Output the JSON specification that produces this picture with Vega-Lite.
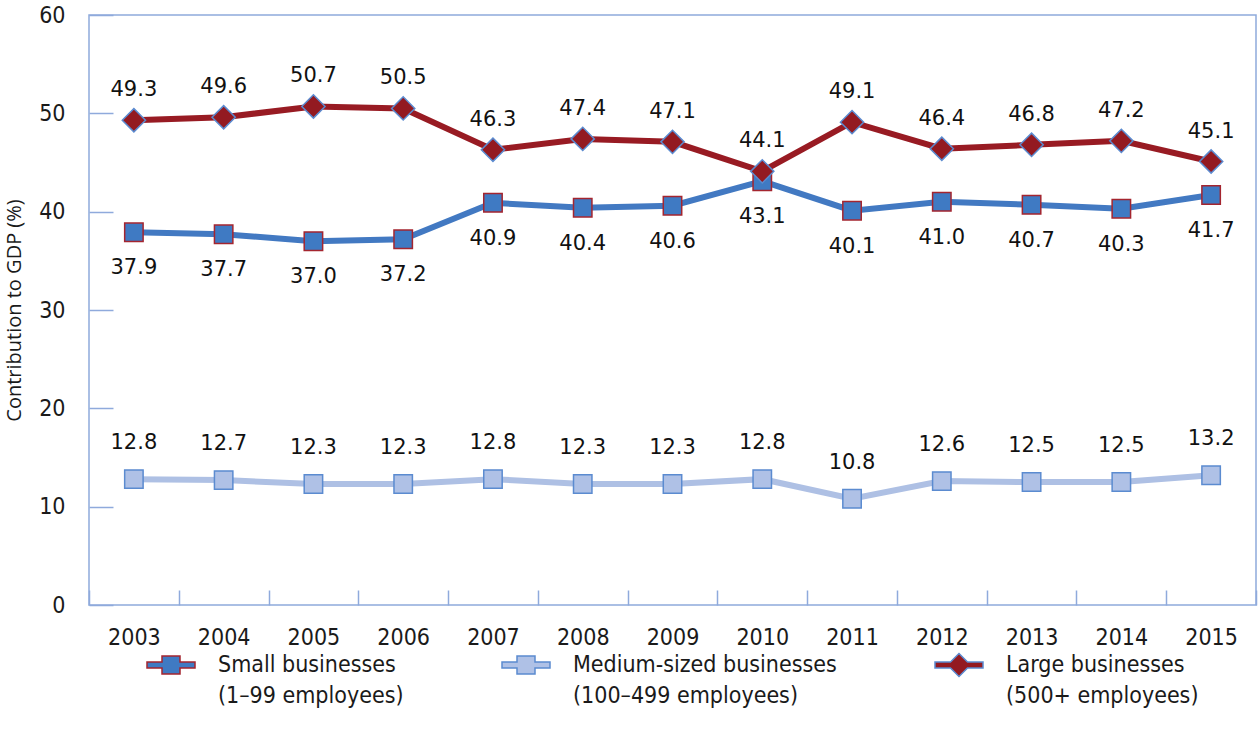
{
  "$schema": "https://vega.github.io/schema/vega-lite/v6.json",
  "width": 1260,
  "height": 732,
  "autosize": {"type": "fit", "contains": "padding"},
  "padding": {"left": 4, "top": 4, "right": 3, "bottom": 24},
  "background": "white",
  "config": {
    "view": {"stroke": "#8FAADC", "strokeWidth": 1.5},
    "font": "DejaVu Sans Condensed",
    "legend": {"layout": {"bottom": {"anchor": "middle"}}},
    "style": {"guide-label": {"lineHeight": 31}}
  },
  "data": {
    "values": [
      {"year": "2003", "series": "Small businesses|(1–99 employees)", "value": 37.9},
      {"year": "2004", "series": "Small businesses|(1–99 employees)", "value": 37.7},
      {"year": "2005", "series": "Small businesses|(1–99 employees)", "value": 37.0},
      {"year": "2006", "series": "Small businesses|(1–99 employees)", "value": 37.2},
      {"year": "2007", "series": "Small businesses|(1–99 employees)", "value": 40.9},
      {"year": "2008", "series": "Small businesses|(1–99 employees)", "value": 40.4},
      {"year": "2009", "series": "Small businesses|(1–99 employees)", "value": 40.6},
      {"year": "2010", "series": "Small businesses|(1–99 employees)", "value": 43.1},
      {"year": "2011", "series": "Small businesses|(1–99 employees)", "value": 40.1},
      {"year": "2012", "series": "Small businesses|(1–99 employees)", "value": 41.0},
      {"year": "2013", "series": "Small businesses|(1–99 employees)", "value": 40.7},
      {"year": "2014", "series": "Small businesses|(1–99 employees)", "value": 40.3},
      {"year": "2015", "series": "Small businesses|(1–99 employees)", "value": 41.7},
      {"year": "2003", "series": "Medium-sized businesses|(100–499 employees)", "value": 12.8},
      {"year": "2004", "series": "Medium-sized businesses|(100–499 employees)", "value": 12.7},
      {"year": "2005", "series": "Medium-sized businesses|(100–499 employees)", "value": 12.3},
      {"year": "2006", "series": "Medium-sized businesses|(100–499 employees)", "value": 12.3},
      {"year": "2007", "series": "Medium-sized businesses|(100–499 employees)", "value": 12.8},
      {"year": "2008", "series": "Medium-sized businesses|(100–499 employees)", "value": 12.3},
      {"year": "2009", "series": "Medium-sized businesses|(100–499 employees)", "value": 12.3},
      {"year": "2010", "series": "Medium-sized businesses|(100–499 employees)", "value": 12.8},
      {"year": "2011", "series": "Medium-sized businesses|(100–499 employees)", "value": 10.8},
      {"year": "2012", "series": "Medium-sized businesses|(100–499 employees)", "value": 12.6},
      {"year": "2013", "series": "Medium-sized businesses|(100–499 employees)", "value": 12.5},
      {"year": "2014", "series": "Medium-sized businesses|(100–499 employees)", "value": 12.5},
      {"year": "2015", "series": "Medium-sized businesses|(100–499 employees)", "value": 13.2},
      {"year": "2003", "series": "Large businesses|(500+ employees)", "value": 49.3},
      {"year": "2004", "series": "Large businesses|(500+ employees)", "value": 49.6},
      {"year": "2005", "series": "Large businesses|(500+ employees)", "value": 50.7},
      {"year": "2006", "series": "Large businesses|(500+ employees)", "value": 50.5},
      {"year": "2007", "series": "Large businesses|(500+ employees)", "value": 46.3},
      {"year": "2008", "series": "Large businesses|(500+ employees)", "value": 47.4},
      {"year": "2009", "series": "Large businesses|(500+ employees)", "value": 47.1},
      {"year": "2010", "series": "Large businesses|(500+ employees)", "value": 44.1},
      {"year": "2011", "series": "Large businesses|(500+ employees)", "value": 49.1},
      {"year": "2012", "series": "Large businesses|(500+ employees)", "value": 46.4},
      {"year": "2013", "series": "Large businesses|(500+ employees)", "value": 46.8},
      {"year": "2014", "series": "Large businesses|(500+ employees)", "value": 47.2},
      {"year": "2015", "series": "Large businesses|(500+ employees)", "value": 45.1}
    ]
  },
  "encoding": {
    "x": {
      "field": "year",
      "type": "ordinal",
      "scale": {"type": "band", "paddingInner": 0, "paddingOuter": 0},
      "axis": {
        "title": null,
        "labelAngle": 0,
        "domain": false,
        "tickBand": "extent",
        "tickSize": -15,
        "tickColor": "#8FAADC",
        "tickWidth": 1.5,
        "labelFont": "DejaVu Sans Condensed",
        "labelFontSize": 23,
        "labelColor": "#1a1a1a",
        "labelPadding": 36
      }
    },
    "y": {
      "field": "value",
      "type": "quantitative",
      "scale": {"domain": [0, 60], "nice": false, "zero": true},
      "axis": {
        "title": "Contribution to GDP (%)",
        "titleFont": "Open Sans",
        "titleFontSize": 20,
        "titleFontWeight": "normal",
        "titleColor": "#1a1a1a",
        "titlePadding": 14,
        "values": [0, 10, 20, 30, 40, 50, 60],
        "grid": false,
        "domain": false,
        "tickSize": -24,
        "tickColor": "#8FAADC",
        "tickWidth": 1.5,
        "labelFont": "DejaVu Sans Condensed",
        "labelFontSize": 23,
        "labelColor": "#1a1a1a",
        "labelPadding": 48
      }
    }
  },
  "layer": [
    {
      "transform": [{"filter": "indexof(datum.series, 'Medium') >= 0"}],
      "mark": {"type": "line", "strokeWidth": 6, "color": "#AEC0E4"}
    },
    {
      "transform": [{"filter": "indexof(datum.series, 'Small') >= 0"}],
      "mark": {"type": "line", "strokeWidth": 6, "color": "#4279C2"}
    },
    {
      "transform": [{"filter": "indexof(datum.series, 'Large') >= 0"}],
      "mark": {"type": "line", "strokeWidth": 6, "color": "#981B23"}
    },
    {
      "transform": [{"filter": "indexof(datum.series, 'Medium') >= 0"}],
      "mark": {"type": "point", "shape": "square", "filled": true, "size": 340, "strokeWidth": 1.5, "opacity": 1, "fill": "#AFC1E6", "stroke": "#5B8BD0"}
    },
    {
      "transform": [{"filter": "indexof(datum.series, 'Small') >= 0"}],
      "mark": {"type": "point", "shape": "square", "filled": true, "size": 340, "strokeWidth": 1.5, "opacity": 1, "fill": "#3F7AC3", "stroke": "#A4252F"}
    },
    {
      "transform": [{"filter": "indexof(datum.series, 'Large') >= 0"}],
      "mark": {"type": "point", "shape": "diamond", "filled": true, "size": 540, "strokeWidth": 1.5, "opacity": 1, "fill": "#931A21", "stroke": "#5B8BD0"}
    },
    {
      "transform": [{"filter": "datum.value < 0"}],
      "mark": {"type": "point", "filled": true, "strokeWidth": 1.5, "opacity": 1},
      "encoding": {
        "shape": {
          "field": "series",
          "type": "nominal",
          "scale": {
            "domain": ["Small businesses|(1–99 employees)", "Medium-sized businesses|(100–499 employees)", "Large businesses|(500+ employees)"],
            "range": [
              "M-1,-0.125H-0.375V-0.375H0.375V-0.125H1V0.125H0.375V0.375H-0.375V0.125H-1Z",
              "M-1,-0.125H-0.375V-0.375H0.375V-0.125H1V0.125H0.375V0.375H-0.375V0.125H-1Z",
              "M-1,-0.125H-0.355L0,-0.48L0.355,-0.125H1V0.125H0.355L0,0.48L-0.355,0.125H-1Z"
            ]
          },
          "legend": {
            "title": null,
            "orient": "bottom",
            "direction": "horizontal",
            "columns": 3,
            "columnPadding": 95,
            "offset": -9,
            "symbolSize": 2304,
            "symbolStrokeWidth": 1.5,
            "symbolOpacity": 1,
            "labelExpr": "split(datum.label, '|')",
            "labelFont": "DejaVu Sans Condensed",
            "labelFontSize": 23,
            "labelColor": "#1a1a1a",
            "labelOffset": 22,
            "labelLimit": 400
          }
        },
        "fill": {
          "field": "series",
          "type": "nominal",
          "scale": {
            "domain": ["Small businesses|(1–99 employees)", "Medium-sized businesses|(100–499 employees)", "Large businesses|(500+ employees)"],
            "range": ["#3F7AC3", "#AFC1E6", "#931A21"]
          }
        },
        "stroke": {
          "field": "series",
          "type": "nominal",
          "scale": {
            "domain": ["Small businesses|(1–99 employees)", "Medium-sized businesses|(100–499 employees)", "Large businesses|(500+ employees)"],
            "range": ["#A4252F", "#5B8BD0", "#5B8BD0"]
          }
        }
      }
    },
    {
      "transform": [{"filter": "indexof(datum.series, 'Large') >= 0"}],
      "mark": {"type": "text", "dy": -30, "font": "DejaVu Sans", "fontSize": 21, "color": "#111111"},
      "encoding": {"text": {"field": "value", "type": "quantitative", "format": ".1f"}}
    },
    {
      "transform": [{"filter": "indexof(datum.series, 'Small') >= 0"}],
      "mark": {"type": "text", "dy": 36, "font": "DejaVu Sans", "fontSize": 21, "color": "#111111"},
      "encoding": {"text": {"field": "value", "type": "quantitative", "format": ".1f"}}
    },
    {
      "transform": [{"filter": "indexof(datum.series, 'Medium') >= 0"}],
      "mark": {"type": "text", "dy": -36, "font": "DejaVu Sans", "fontSize": 21, "color": "#111111"},
      "encoding": {"text": {"field": "value", "type": "quantitative", "format": ".1f"}}
    }
  ]
}
